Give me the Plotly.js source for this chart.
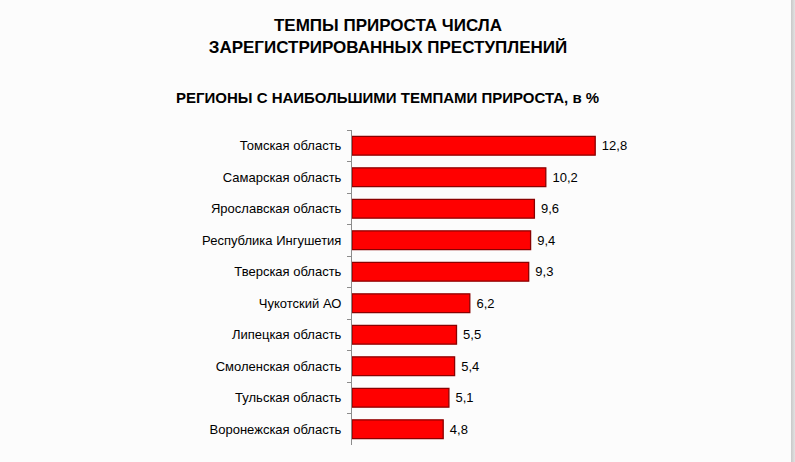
<!DOCTYPE html>
<html>
<head>
<meta charset="utf-8">
<script src="https://cdn.plot.ly/plotly-3.0.1.min.js"></script>
<style>
html,body{margin:0;padding:0;background:#fcfcfc;}
#wrap{width:795px;height:462px;position:relative;background:#fcfcfc;}
#chart{width:791px;height:462px;position:absolute;left:0;top:0;}
#edge{position:absolute;left:791px;top:0;width:4px;height:462px;background:linear-gradient(to right,#c8c8c8,#e2e2e2);}
</style>
</head>
<body>
<div id="wrap"><div id="chart"></div><div id="edge"></div></div>
<script>
const regions = [
  "Томская область",
  "Самарская область",
  "Ярославская область",
  "Республика Ингушетия",
  "Тверская область",
  "Чукотский АО",
  "Липецкая область",
  "Смоленская область",
  "Тульская область",
  "Воронежская область"
];
const growthPct = [12.8, 10.2, 9.6, 9.4, 9.3, 6.2, 5.5, 5.4, 5.1, 4.8];

const mainTitle = "ТЕМПЫ ПРИРОСТА ЧИСЛА<br>ЗАРЕГИСТРИРОВАННЫХ ПРЕСТУПЛЕНИЙ";
const subTitle = "РЕГИОНЫ С НАИБОЛЬШИМИ ТЕМПАМИ ПРИРОСТА, в %";

const trace = {
  type: "bar",
  orientation: "h",
  y: regions,
  x: growthPct,
  width: 0.6,
  marker: {color: "#ff0000", line: {color: "#8a0000", width: 1.3}},
  texttemplate: "\u00a0%{x:.1f}",
  textposition: "outside",
  cliponaxis: false,
  textfont: {family: "Liberation Sans, Arial, sans-serif", size: 13, color: "#000"},
  hoverinfo: "skip"
};

const layout = {
  width: 791,
  height: 462,
  separators: ", ",
  paper_bgcolor: "#fcfcfc",
  plot_bgcolor: "#fcfcfc",
  margin: {l: 352, r: 59, t: 130, b: 17, pad: 0},
  showlegend: false,
  font: {family: "Liberation Sans, Arial, sans-serif", color: "#000"},
  title: {
    text: mainTitle,
    font: {size: 17, family: "Liberation Sans, Arial, sans-serif", weight: "bold", color: "#000"},
    x: 0.4905, xref: "container", xanchor: "center",
    y: 1 - 31/462, yref: "container", yanchor: "top"
  },
  annotations: [{
    text: "<b>" + subTitle + "</b>",
    xref: "paper", yref: "paper",
    x: (387 - 352) / 380, y: (445 - 98) / 315,
    xanchor: "center", yanchor: "middle",
    showarrow: false,
    font: {size: 15, family: "Liberation Sans, Arial, sans-serif", color: "#000"}
  }],
  xaxis: {
    range: [0, 20],
    visible: false,
    showgrid: false,
    zeroline: false,
    fixedrange: true
  },
  yaxis: {
    type: "category",
    categoryorder: "array",
    categoryarray: regions,
    autorange: "reversed",
    showline: true,
    linecolor: "#8c8c8c",
    linewidth: 1,
    ticks: "outside",
    tickson: "boundaries",
    ticklen: 4,
    tickcolor: "#8c8c8c",
    ticklabelstandoff: 7,
    showgrid: false,
    zeroline: false,
    tickfont: {size: 13, family: "Liberation Sans, Arial, sans-serif", color: "#000"},
    fixedrange: true
  }
};

Plotly.newPlot("chart", [trace], layout, {displayModeBar: false, staticPlot: true});
</script>
</body>
</html>
